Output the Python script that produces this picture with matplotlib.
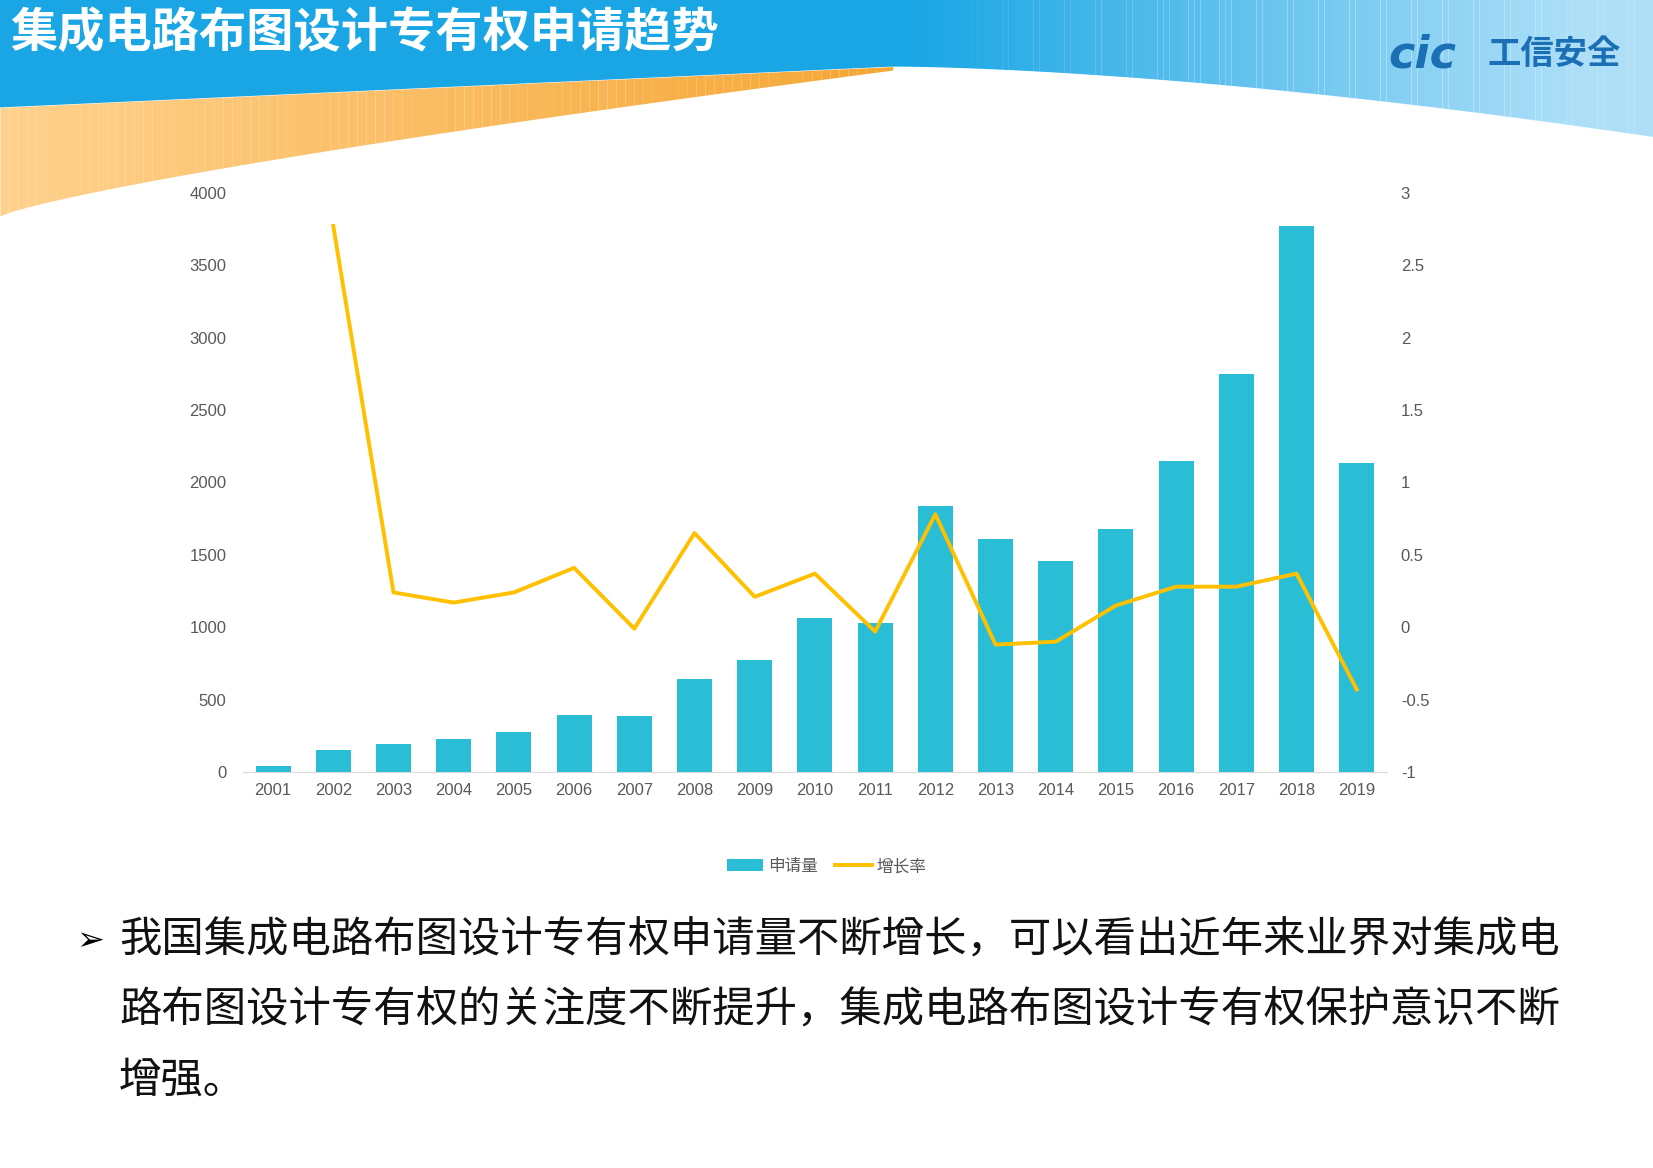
import matplotlib
matplotlib.use("Agg")
import matplotlib.pyplot as plt
from matplotlib import font_manager as fm
import numpy as np

cands = [f for f in fm.fontManager.ttflist if "CJK" in f.name or "CJK" in f.fname]
names = sorted(set(f.name for f in cands))
cjk = None
for pref in ["Noto Sans CJK SC", "Noto Sans CJK JP", "Noto Sans CJK TC", "Noto Sans CJK KR"]:
    if pref in names:
        cjk = pref; break
if cjk is None and names:
    cjk = names[0]
if cjk is None:
    cjk = "DejaVu Sans"
plt.rcParams["font.family"] = [cjk, "DejaVu Sans"]

years = [str(y) for y in range(2001, 2020)]
apps = [40, 155, 195, 225, 275, 395, 385, 640, 775, 1065, 1030, 1835, 1610, 1455, 1675, 2150, 2750, 3770, 2135]
growth = [None, 2.77, 0.24, 0.17, 0.24, 0.41, -0.01, 0.65, 0.21, 0.37, -0.03, 0.78, -0.12, -0.10, 0.15, 0.28, 0.28, 0.37, -0.43]

W, H = 1653, 1168
fig = plt.figure(figsize=(W/100, H/100), dpi=100)

bg = fig.add_axes([0, 0, 1, 1]); bg.set_xlim(0, 1); bg.set_ylim(0, 1); bg.axis("off")
bx = np.linspace(0, 1, 300)
blue_lower = np.where(bx < 0.54, 0.908 + 0.035 * bx / 0.54, 0.943 - 0.06 * ((bx - 0.54) / 0.46) ** 1.6)
bg.fill_between(bx, blue_lower, 1, color="#1aa6e4", zorder=1, lw=0)
for i in range(120):
    x0 = 0.55 + i * 0.00375
    bg.fill_between([x0, x0 + 0.004], [0.88, 0.88], [1, 1], color="#bfe6fa", alpha=min(0.9, i / 120), lw=0, zorder=1.5)
bg.fill_between(bx, 0.8, blue_lower, where=bx > 0.5, color="white", zorder=1.6, lw=0)
ox = np.linspace(0, 0.54, 201)
o_lower = 0.815 + 0.125 * (ox / 0.54) ** 0.8
o_upper = 0.908 + 0.035 * ox / 0.54
for i in range(100):
    sl = slice(i * 2, i * 2 + 3)
    c = np.array([1.0, 0.82, 0.55]) * (1 - i / 100) + np.array([0.96, 0.65, 0.2]) * (i / 100)
    bg.fill_between(ox[sl], o_lower[sl], o_upper[sl], color=c, zorder=2, lw=0)
fig.text(0.006, 0.972, "集成电路布图设计专有权申请趋势", fontsize=34, color="white", weight="bold", va="center")
fig.text(0.84, 0.953, "cic", fontsize=32, color="#1a6fb5", weight="bold", style="italic", va="center", family="DejaVu Sans")
fig.text(0.9, 0.953, "工信安全", fontsize=24, color="#1a6fb5", weight="bold", va="center")

tickfont = "Liberation Sans"
ax = fig.add_axes([0.147, 0.339, 0.692, 0.496])
x = np.arange(len(years))
ax.bar(x, apps, width=0.58, color="#29bed6", label="申请量", zorder=2)
ax.set_ylim(0, 4000)
ax.set_yticks(range(0, 4001, 500))
ax.set_xlim(-0.5, len(years) - 0.5)
ax.set_xticks(x); ax.set_xticklabels(years)
for s in ["top", "right", "left"]:
    ax.spines[s].set_visible(False)
ax.spines["bottom"].set_color("#d9d9d9")
ax.tick_params(length=0, labelsize=12, colors="#595959", pad=12)
ax.tick_params(axis="x", pad=8)
for lab in ax.get_xticklabels() + ax.get_yticklabels():
    lab.set_family(tickfont)
ax2 = ax.twinx()
gx = [i for i, g in enumerate(growth) if g is not None]
gy = [g for g in growth if g is not None]
ax2.plot(gx, gy, color="#ffc000", lw=2.8, label="增长率", zorder=3)
ax2.set_ylim(-1, 3)
ax2.set_yticks([-1, -0.5, 0, 0.5, 1, 1.5, 2, 2.5, 3])
ax2.set_yticklabels(["-1", "-0.5", "0", "0.5", "1", "1.5", "2", "2.5", "3"])
for s in ["top", "right", "left", "bottom"]:
    ax2.spines[s].set_visible(False)
ax2.tick_params(length=0, labelsize=12, colors="#595959", pad=10)
for lab in ax2.get_yticklabels():
    lab.set_family(tickfont)
h1, l1 = ax.get_legend_handles_labels(); h2, l2 = ax2.get_legend_handles_labels()
fig.legend(h1 + h2, l1 + l2, loc="center", bbox_to_anchor=(0.5, 0.258), ncol=2, frameon=False,
           fontsize=12, labelcolor="#595959", handlelength=2.2, columnspacing=1.0, handletextpad=0.3)

fig.text(0.046, 0.195, "➢", fontsize=24, va="center", family="DejaVu Sans")
lines = ["我国集成电路布图设计专有权申请量不断增长，可以看出近年来业界对集成电",
         "路布图设计专有权的关注度不断提升，集成电路布图设计专有权保护意识不断",
         "增强。"]
for i, t in enumerate(lines):
    fig.text(0.072, 0.195 - i * 0.06, t, fontsize=30.5, va="center", color="#111111")

fig.savefig("out.png", dpi=100)
